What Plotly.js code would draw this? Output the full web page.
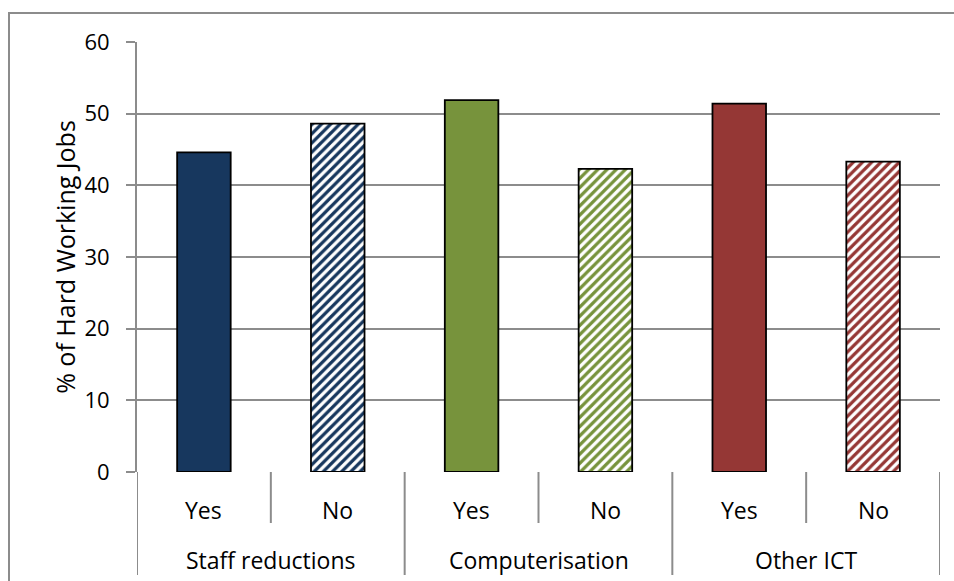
<!DOCTYPE html>
<html>
<head>
<meta charset="utf-8">
<script src="https://cdn.plot.ly/plotly-3.0.1.min.js"></script>
<style>
  html, body { margin: 0; padding: 0; background: #fff; }
  #wrap { position: relative; width: 954px; height: 581px; overflow: hidden; }
  #chart { position: absolute; left: 0; top: 0; width: 954px; height: 581px; }
  #frame { position: absolute; left: 8px; top: 12px; width: 960px; height: 600px;
           border-left: 2px solid #8c8c8c; border-top: 2px solid #8c8c8c; pointer-events: none; }
</style>
</head>
<body>
<div id="wrap">
  <div id="chart"></div>
  <div id="frame"></div>
</div>
<script>
// Share of hard working jobs by workplace change
const groups = ["Staff reductions", "Computerisation", "Other ICT"];
const answers = ["Yes", "No"];
const yesValues = [44.6, 51.9, 51.4];
const noValues = [48.6, 42.3, 43.3];
const groupColors = ["#17375E", "#77933C", "#953735"];
const yTicks = [0, 10, 20, 30, 40, 50, 60];

const FONT = "'Open Sans', 'Noto Sans', sans-serif";
const GRID = "#8c8c8c";

// each group takes two slots on the x axis: Yes then No
const yesX = groups.map((g, i) => i * answers.length);
const noX = groups.map((g, i) => i * answers.length + 1);
const nSlots = groups.length * answers.length;

const traces = [
  {
    type: "bar", x: yesX, y: yesValues, width: 0.4,
    marker: { color: groupColors, line: { color: "#000", width: 1.8 } },
    hoverinfo: "y", showlegend: false
  },
  {
    type: "bar", x: noX, y: noValues, width: 0.4,
    marker: {
      color: "#ffffff",
      line: { color: "#000", width: 1.8 },
      pattern: { shape: "/", fgcolor: groupColors, bgcolor: "#ffffff", size: 6.5, solidity: 0.5, fillmode: "replace" }
    },
    hoverinfo: "y", showlegend: false
  }
];

const annotations = [];
const shapes = [];
const subLabelY = -(38 / 430);
const groupLabelY = -(88 / 430);
const subDividerY = -(51 / 430);
const groupDividerY = -(103 / 430);

groups.forEach((g, i) => {
  answers.forEach((a, j) => {
    annotations.push({
      x: i * answers.length + j, y: subLabelY, xref: "x", yref: "paper",
      text: a, showarrow: false, xanchor: "center", yanchor: "middle",
      font: { family: FONT, size: 23, color: "#000" }
    });
  });
  annotations.push({
    x: i * answers.length + (answers.length - 1) / 2, y: groupLabelY, xref: "x", yref: "paper",
    text: g, showarrow: false, xanchor: "center", yanchor: "middle",
    font: { family: FONT, size: 23, color: "#000" }
  });
});

// dividers between category slots, longer ones between groups
for (let b = 0; b <= nSlots; b++) {
  const isGroupEdge = b % answers.length === 0;
  shapes.push({
    type: "line", xref: "x", yref: "paper",
    x0: b - 0.5, x1: b - 0.5, y0: 0, y1: isGroupEdge ? groupDividerY : subDividerY,
    line: { color: GRID, width: 2 }
  });
}

const layout = {
  width: 954, height: 581,
  margin: { l: 137, r: 14, t: 42, b: 109 },
  paper_bgcolor: "rgba(0,0,0,0)", plot_bgcolor: "#fff",
  barmode: "overlay",
  xaxis: {
    range: [-0.5, nSlots - 0.5], showticklabels: false, ticks: "",
    showgrid: false, zeroline: false, showline: false, fixedrange: true
  },
  yaxis: {
    range: [0, 60], tickvals: yTicks, ticks: "outside", ticklen: 9, tickwidth: 2, tickcolor: GRID,
    showgrid: true, gridcolor: GRID, gridwidth: 2,
    showline: true, linecolor: GRID, linewidth: 2,
    zeroline: false, ticklabelstandoff: 12,
    tickfont: { family: FONT, size: 22, color: "#000" },
    title: { text: "% of Hard Working Jobs", font: { family: FONT, size: 25, color: "#000" }, standoff: 2 },
    fixedrange: true
  },
  annotations: annotations,
  shapes: shapes,
  font: { family: FONT }
};

Plotly.newPlot("chart", traces, layout, { displayModeBar: false, staticPlot: true });
</script>
</body>
</html>
